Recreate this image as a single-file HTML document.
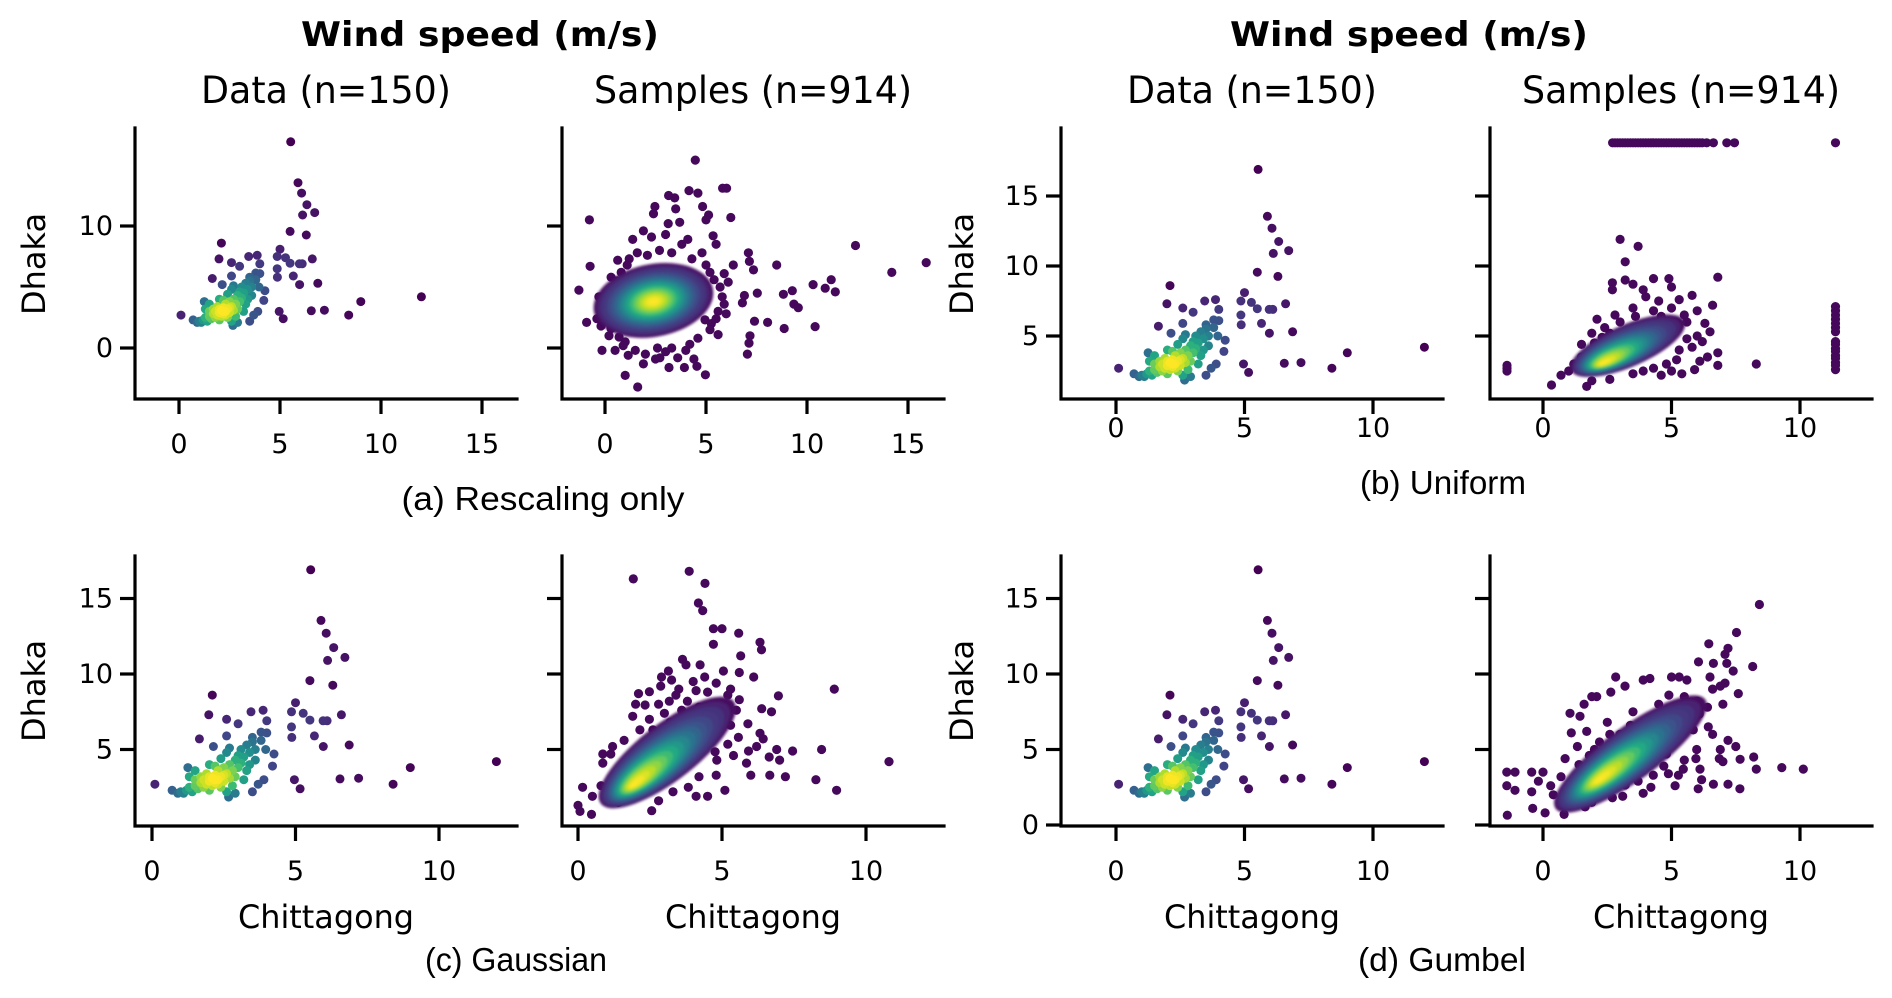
<!DOCTYPE html>
<html><head><meta charset="utf-8"><style>
html,body{margin:0;padding:0;background:#fff;}
svg{display:block;}
text{font-family:"DejaVu Sans","Liberation Sans",sans-serif;fill:#000;}
.cap{font-family:"Liberation Sans",sans-serif;}
</style></head><body>
<svg id="fig" width="1892" height="998" viewBox="0 0 1892 998">
<defs><filter id="soft" x="-20%" y="-20%" width="140%" height="140%"><feGaussianBlur stdDeviation="1.3"/></filter></defs>
<text x="480" y="46" font-size="34" font-weight="bold" text-anchor="middle" textLength="358" lengthAdjust="spacingAndGlyphs">Wind speed (m/s)</text>
<text x="1409" y="46" font-size="34" font-weight="bold" text-anchor="middle" textLength="358" lengthAdjust="spacingAndGlyphs">Wind speed (m/s)</text>
<text x="326" y="103" font-size="37" text-anchor="middle" textLength="250" lengthAdjust="spacingAndGlyphs">Data (n=150)</text>
<text x="753" y="103" font-size="37" text-anchor="middle" textLength="318" lengthAdjust="spacingAndGlyphs">Samples (n=914)</text>
<text x="1252" y="103" font-size="37" text-anchor="middle" textLength="250" lengthAdjust="spacingAndGlyphs">Data (n=150)</text>
<text x="1681" y="103" font-size="37" text-anchor="middle" textLength="318" lengthAdjust="spacingAndGlyphs">Samples (n=914)</text>
<text class="cap" x="543" y="510" font-size="33" text-anchor="middle" textLength="283" lengthAdjust="spacingAndGlyphs">(a) Rescaling only</text>
<text class="cap" x="1443" y="494" font-size="33" text-anchor="middle" textLength="166" lengthAdjust="spacingAndGlyphs">(b) Uniform</text>
<text class="cap" x="516" y="971" font-size="33" text-anchor="middle" textLength="182" lengthAdjust="spacingAndGlyphs">(c) Gaussian</text>
<text class="cap" x="1442" y="971" font-size="33" text-anchor="middle" textLength="168" lengthAdjust="spacingAndGlyphs">(d) Gumbel</text>
<text x="326" y="928" font-size="32" text-anchor="middle" textLength="176" lengthAdjust="spacingAndGlyphs">Chittagong</text>
<text x="753" y="928" font-size="32" text-anchor="middle" textLength="176" lengthAdjust="spacingAndGlyphs">Chittagong</text>
<text x="1252" y="928" font-size="32" text-anchor="middle" textLength="176" lengthAdjust="spacingAndGlyphs">Chittagong</text>
<text x="1681" y="928" font-size="32" text-anchor="middle" textLength="176" lengthAdjust="spacingAndGlyphs">Chittagong</text>
<text transform="translate(45,264) rotate(-90)" font-size="32" text-anchor="middle">Dhaka</text>
<text transform="translate(973,264) rotate(-90)" font-size="32" text-anchor="middle">Dhaka</text>
<text transform="translate(45,691) rotate(-90)" font-size="32" text-anchor="middle">Dhaka</text>
<text transform="translate(973,691) rotate(-90)" font-size="32" text-anchor="middle">Dhaka</text>
</svg>
<script>
// ---- observed data (n=150), shared by all Data panels ----
const observedPoints = [
[5.53,16.9],[5.89,13.55],[6.07,12.7],[6.33,11.75],[6.12,10.9],[6.72,11.1],[5.5,9.56],[6.3,9.26],
[2.1,8.6],[1.98,7.3],[6.6,7.3],[5.0,8.1],[4.86,7.5],[5.27,7.4],[5.5,6.95],[5.96,6.9],[6.1,6.9],
[3.87,7.6],[3.45,7.5],[4.0,6.9],[2.6,7.0],[3.0,6.7],[4.86,6.5],[4.87,5.8],[5.66,5.9],[5.97,5.2],
[6.87,5.3],[1.65,5.7],[2.6,5.9],[2.14,5.2],[3.5,5.8],[3.8,6.15],[3.96,5.0],[4.25,4.7],[4.2,3.9],
[3.6,4.3],[3.4,4.0],[4.96,3.0],[5.16,2.4],[6.55,3.05],[7.2,3.1],[8.4,2.7],[9.0,3.8],[12.0,4.2],
[0.1,2.7],[3.9,3.0],[3.7,2.7],[3.5,2.2],[2.67,1.85],[0.7,2.3],[1.25,3.8],
[0.9,2.1],[1.0,2.2],[1.1,2.1],[1.2,2.3],[1.3,2.5],[1.4,2.2],[1.5,2.6],[1.5,3.0],[1.6,2.4],[1.7,2.8],
[1.7,3.2],[1.8,2.5],[1.8,3.0],[1.9,2.7],[1.9,3.4],[2.0,2.9],[2.0,2.3],[2.1,3.1],[2.1,2.6],[2.2,3.3],
[2.2,2.8],[2.3,3.0],[2.3,3.6],[2.4,2.5],[2.4,3.2],[2.5,2.9],[2.5,3.8],[2.6,3.4],[2.6,2.2],[2.7,3.1],
[2.7,4.0],[2.8,3.6],[2.8,2.6],[2.9,4.3],[2.9,3.2],[3.0,4.6],[3.0,3.8],[3.1,5.0],[3.1,4.1],[3.2,4.5],
[3.3,5.3],[3.3,3.6],[3.4,4.8],[3.5,5.5],[2.0,4.0],[2.4,4.4],[1.5,3.6],[2.6,4.8],[3.6,5.0],[3.8,5.6],
[4.0,6.1],[3.2,3.0],[2.9,2.1],[1.3,3.2],[2.2,3.9],[2.7,5.1],[2.2,3.0],[2.3,2.7],[2.0,3.2],[2.5,3.3]
];
// ---- sampled points (outer scatter) per method ----
const samplesRescale = [
[4.47,15.4],[5.82,13.1],[6.02,13.1],[4.16,12.9],[4.6,12.7],[3.15,12.5],[3.45,12.3],[2.47,11.6],[3.5,11.4],
[4.83,11.6],[5.13,10.9],[6.23,10.7],[5.0,10.5],[-0.77,10.5],[3.13,10.2],[3.7,10.3],[2.4,11.0],[2.3,9.1],
[5.35,9.2],[5.5,8.5],[1.37,8.9],[-0.74,6.7],[0.63,7.2],[7.1,7.8],[7.15,7.1],[7.35,6.4],[8.5,6.8],[12.4,8.4],
[14.2,6.2],[15.9,7.0],[11.2,5.6],[10.3,5.2],[10.9,4.9],[11.4,4.6],[9.27,4.7],[8.83,4.4],[7.54,4.5],[6.9,4.3],
[6.8,3.7],[9.35,3.6],[9.57,3.3],[8.05,2.1],[8.87,1.6],[10.4,1.75],[7.4,2.2],[7.18,1.0],[7.13,0.4],[7.05,-0.5],
[6.35,6.8],[-1.29,4.75],[-0.91,2.1],[-0.15,-0.2],[1.15,-0.6],[1.9,-1.3],[2.72,-0.8],[3.17,-1.6],[3.93,-1.6],
[4.55,-1.5],[4.97,-2.2],[1.0,-2.25],[1.62,-3.2],[5.6,1.1],[4.95,2.3],[5.26,2.0],
[-0.3,4.2],[-0.4,2.4],[0.2,1.0],[0.5,-0.2],[0.8,6.2],[1.2,7.3],[1.0,0.5],[2.0,-0.5],[3.0,-0.3],[4.2,0.3],
[5.2,1.5],[5.6,3.0],[5.4,5.6],[4.8,7.8],[3.8,8.5],[2.7,8.0],[1.6,7.8],[0.3,5.8],[5.8,4.2],[6.1,5.4],
[4.4,-0.9],[3.6,-0.8],[1.5,-0.2],[0.0,3.2],[5.0,6.8],[-0.2,1.8],
[0.4,4.8],[0.2,3.6],[-0.1,2.7],[0.3,1.6],[0.9,0.2],[2.5,-0.9],[3.3,0.0],[4.6,0.8],[5.5,2.4],[5.9,3.6],
[5.7,5.0],[5.2,6.2],[4.3,7.3],[3.3,7.8],[2.1,7.6],[1.1,6.8],[0.6,5.5],[4.1,8.9],[3.0,9.3],[1.9,9.6],
[5.9,6.1],[6.0,2.8],[0.7,0.9],[2.6,0.0],[4.0,-0.2]
];
const samplesUniform = [
[2.71,18.8],[2.8,18.8],[2.9,18.8],[3.0,18.8],[3.1,18.8],[3.2,18.8],[3.3,18.8],[3.4,18.8],[3.5,18.8],[3.6,18.8],
[3.7,18.8],[3.8,18.8],[3.9,18.8],[4.0,18.8],[4.1,18.8],[4.2,18.8],[4.3,18.8],[4.4,18.8],[4.5,18.8],[4.6,18.8],
[4.7,18.8],[4.8,18.8],[4.9,18.8],[5.0,18.8],[5.1,18.8],[5.2,18.8],[5.3,18.8],[5.4,18.8],[5.5,18.8],[5.6,18.8],
[5.7,18.8],[5.8,18.8],[5.9,18.8],[6.0,18.8],[6.1,18.8],[6.2,18.8],[6.37,18.8],[6.63,18.8],[7.15,18.8],[7.45,18.8],[11.38,18.8],
[11.38,2.6],[11.38,2.9],[11.38,3.1],[11.38,3.4],[11.38,3.6],[11.38,3.9],[11.38,4.1],[11.38,4.4],[11.38,4.6],
[11.38,5.3],[11.38,5.6],[11.38,5.9],[11.38,6.2],[11.38,6.5],[11.38,6.8],[11.38,7.1],
[-1.4,2.5],[-1.4,2.7],[-1.4,2.9],
[0.7,2.2],[0.33,1.5],[1.7,1.4],[1.0,2.5],[1.5,3.5],[2.1,6.2],[1.5,4.4],[2.7,8.8],[2.7,8.3],[3.2,9.0],
[3.5,8.7],[3.0,11.9],[3.7,11.4],[3.2,10.3],[4.3,9.1],[4.9,9.1],[5.0,8.5],[6.8,9.2],[6.6,7.2],[5.8,7.9],
[6.3,5.9],[6.5,5.3],[8.3,3.0],[6.8,3.8],[6.4,3.5],[6.8,2.9],[5.9,2.6],[4.6,2.2],[5.4,2.3],[5.0,2.5],
[4.5,7.5],[4.0,7.8],[3.5,7.0],[5.5,6.5],[5.3,4.0],[4.8,3.0],[3.9,2.5],[2.8,6.5],[2.4,5.6],[5.6,4.8],
[6.0,6.8],[3.9,8.3],[1.9,5.2],
[1.2,3.0],[2.0,4.5],[2.6,5.2],[3.0,6.0],[3.6,6.4],[4.3,6.8],[5.0,7.0],[5.6,6.0],[6.0,5.0],[5.8,4.2],
[5.2,3.3],[4.3,2.7],[3.5,2.3],[2.6,1.9],[1.9,1.8],[5.3,7.6],[4.6,6.4],[6.2,4.6],[2.3,4.9],[6.1,3.2]
];
const samplesGaussian = [
[1.92,16.3],[3.86,16.8],[4.41,16.0],[4.18,14.7],[4.33,14.2],[4.7,13.0],[5.0,13.0],[5.58,12.7],[6.32,12.1],
[6.37,11.6],[4.7,11.97],[5.65,11.2],[3.63,10.97],[3.75,10.6],[4.24,10.6],[5.05,10.2],[3.14,10.2],[2.9,9.8],
[3.25,9.6],[5.6,10.1],[6.1,9.8],[2.1,8.7],[2.48,8.83],[2.87,9.2],[2.0,8.0],[2.33,7.95],[2.8,8.0],[3.17,8.2],
[1.9,7.2],[2.48,7.0],[2.15,6.3],[6.96,8.55],[8.9,9.0],[6.38,7.7],[6.72,7.5],[6.32,6.07],[6.43,5.7],[6.9,5.0],
[7.45,4.9],[8.46,5.0],[5.92,4.9],[6.64,4.5],[7.0,4.3],[10.8,4.2],[8.26,3.0],[8.98,2.3],[6.66,3.3],[7.2,3.2],
[6.0,3.3],[5.85,4.1],[5.1,2.3],[4.8,3.3],[4.5,1.9],[4.1,1.9],[3.83,2.5],[0.86,4.7],[1.14,4.7],[0.86,4.1],
[0.16,2.5],[0.0,1.3],[0.07,0.9],[0.47,0.7],[2.56,0.95],[4.76,4.85],[4.82,4.3],[5.2,5.35],[5.57,5.8],
[3.5,9.0],[4.0,9.5],[4.5,8.8],[5.2,8.6],[5.5,7.6],[3.0,7.4],[3.8,8.2],[4.6,7.0],[5.3,6.6],[1.6,5.6],[1.2,5.2],
[3.4,8.6],[4.1,8.9],[4.8,9.4],[5.3,9.0],[4.2,7.8],[3.6,7.6],[5.6,8.3],[5.0,7.8],[2.6,6.3],[3.2,6.8],
[5.9,6.7],[5.4,4.6],[4.2,3.2],[3.3,2.2],[2.8,1.6],[1.4,1.5],[0.8,2.6],[0.5,1.9],[6.2,5.2],[4.4,9.8]
];
const samplesGumbel = [
[8.42,14.6],[7.53,12.75],[6.45,12.0],[7.2,11.7],[7.08,11.3],[7.15,10.7],[6.63,10.7],[6.05,10.8],[8.16,10.5],
[7.6,8.7],[7.08,9.4],[6.5,9.8],[6.9,9.2],[5.3,9.8],[5.6,9.6],[5.0,9.8],[4.16,9.7],[3.9,9.6],[2.83,9.8],
[3.19,9.2],[2.64,8.8],[2.09,8.5],[1.9,8.5],[1.6,8.0],[1.05,7.4],[1.44,7.2],[1.1,6.1],[1.7,6.2],[1.34,5.2],
[0.86,4.4],[-0.44,3.5],[-1.09,3.5],[-1.41,3.5],[0.0,3.5],[-1.41,2.6],[-1.09,2.3],[-0.44,2.2],[-0.18,2.9],
[-1.39,0.65],[-0.4,1.1],[0.08,0.8],[0.82,0.7],[1.64,1.2],[7.2,5.6],[7.5,5.2],[8.2,4.5],[7.67,4.35],[6.86,4.4],
[7.0,4.2],[9.29,3.8],[10.13,3.7],[8.3,3.7],[5.98,5.0],[5.95,4.4],[6.11,3.7],[5.46,3.7],[5.27,3.3],[6.17,3.0],
[6.63,2.7],[7.2,2.7],[7.66,2.4],[6.04,2.4],[5.14,2.6],[4.88,3.4],[4.29,3.3],[4.2,2.5],[3.9,2.1],[3.1,1.9],
[3.2,2.65],[6.08,7.35],[5.85,6.3],[6.43,6.5],[4.55,5.0],[4.8,4.7],[4.1,4.5],
[5.5,8.5],[4.5,8.0],[3.5,7.5],[2.5,6.8],[6.0,8.2],[5.0,7.2],[3.0,6.0],[2.2,5.5],[1.8,4.6],[0.4,2.0],
[6.6,9.0],[7.0,8.0],[6.4,7.8],[5.7,7.6],[4.9,8.6],[4.1,7.0],[3.4,6.6],[2.6,6.0],[2.0,5.0],[1.4,4.0],
[0.7,3.2],[0.3,2.6],[6.6,6.0],[6.9,5.0],[5.5,4.3],[4.7,3.9],[3.7,2.9],[2.7,1.8],[1.9,1.5],[7.4,10.2]
];
// ---- density core of each sample cloud: [meanX, meanY], [modeX, modeY], [angle(deg), halfLength, halfWidth] ----
const coreRescaleMean = [2.4,3.9], coreRescaleMode = [2.4,3.8], coreRescaleShape = [50,3.3,2.7];
const coreUniformMean = [3.3,4.3], coreUniformMode = [2.3,3.0], coreUniformShape = [45,2.9,1.25];
const coreGaussianMean = [3.1,4.8], coreGaussianMode = [1.9,2.6], coreGaussianShape = [60,4.2,1.3];
const coreGumbelMean = [3.4,4.7], coreGumbelMode = [2.15,2.95], coreGumbelShape = [54,4.7,1.35];
// ---- tick values ----
const xTicksA = [0,5,10,15], yTicksA = [0,10];
const xTicksB = [0,5,10], yTicksB = [5,10,15];
const xTicksC = [0,5,10], yTicksC = [5,10,15];
const xTicksD = [0,5,10], yTicksD = [0,5,10,15];

const NS = 'http://www.w3.org/2000/svg';
const svg = document.getElementById('fig');
const VIR = ['#440154','#482475','#414487','#355f8d','#2a788e','#21918c','#22a884','#44bf70','#7ad151','#bddf26','#fde725'];
function hex(h){return [parseInt(h.slice(1,3),16),parseInt(h.slice(3,5),16),parseInt(h.slice(5,7),16)];}
function viridis(t){t=Math.max(0,Math.min(1,t));const p=t*10,i=Math.min(9,Math.floor(p)),f=p-i;const a=hex(VIR[i]),b=hex(VIR[i+1]);
 return 'rgb('+a.map((v,k)=>Math.round(v+(b[k]-v)*f)).join(',')+')';}
function mk(tag,attrs,parent){const e=document.createElementNS(NS,tag);for(const k in attrs)e.setAttribute(k,attrs[k]);(parent||svg).appendChild(e);return e;}

const obsDensity = observedPoints.map(p=>observedPoints.reduce((s,q)=>{const dx=(p[0]-q[0])/0.65,dy=(p[1]-q[1])/0.75;return s+Math.exp(-(dx*dx+dy*dy)/2);},0));
const dMin=Math.min(...obsDensity), dMax=Math.max(...obsDensity);
const obsOrder = observedPoints.map((p,i)=>i).sort((a,b)=>obsDensity[a]-obsDensity[b]);

const panels = [
 {name:'a-data',pts:observedPoints,obs:true,left:135,right:517,top:128,bottom:399,x0:179,sx:20.2,y0:348,sy:12.2,xt:xTicksA,yt:yTicksA,ylab:true,xlabY:453},
 {name:'a-samples',pts:samplesRescale,core:[coreRescaleMean,coreRescaleMode,coreRescaleShape],left:562,right:944,top:128,bottom:399,x0:605,sx:20.2,y0:348,sy:12.2,xt:xTicksA,yt:yTicksA,ylab:false,xlabY:453},
 {name:'b-data',pts:observedPoints,obs:true,left:1061,right:1443,top:128,bottom:399,x0:1116,sx:25.7,y0:406,sy:14,xt:xTicksB,yt:yTicksB,ylab:true,xlabY:437},
 {name:'b-samples',pts:samplesUniform,core:[coreUniformMean,coreUniformMode,coreUniformShape],left:1490,right:1872,top:128,bottom:399,x0:1543,sx:25.7,y0:406,sy:14,xt:xTicksB,yt:yTicksB,ylab:false,xlabY:437},
 {name:'c-data',pts:observedPoints,obs:true,left:135,right:517,top:556,bottom:826,x0:152,sx:28.7,y0:825,sy:15.1,xt:xTicksC,yt:yTicksC,ylab:true,xlabY:880},
 {name:'c-samples',pts:samplesGaussian,core:[coreGaussianMean,coreGaussianMode,coreGaussianShape],left:562,right:944,top:556,bottom:826,x0:578,sx:28.8,y0:825,sy:15.1,xt:xTicksC,yt:yTicksC,ylab:false,xlabY:880},
 {name:'d-data',pts:observedPoints,obs:true,left:1061,right:1443,top:556,bottom:826,x0:1116,sx:25.7,y0:825,sy:15.1,xt:xTicksD,yt:yTicksD,ylab:true,xlabY:880},
 {name:'d-samples',pts:samplesGumbel,core:[coreGumbelMean,coreGumbelMode,coreGumbelShape],left:1490,right:1872,top:556,bottom:826,x0:1543,sx:25.7,y0:825,sy:15.1,xt:xTicksD,yt:yTicksD,ylab:false,xlabY:880}
];

panels.forEach(P=>{
 const X=v=>P.x0+v*P.sx, Y=v=>P.y0-v*P.sy;
 const g=mk('g',{});
 
 
 const pg=mk('g',{},g);
 
 
 if(P.obs){
  obsOrder.forEach(i=>{const p=P.pts[i];
   const c=mk('circle',{cx:X(p[0]).toFixed(1),cy:Y(p[1]).toFixed(1),r:4.5,fill:viridis((obsDensity[i]-dMin)/(dMax-dMin))},pg);
   
   
  });
 } else {
  P.pts.forEach(p=>{
   const c=mk('circle',{cx:X(p[0]).toFixed(1),cy:Y(p[1]).toFixed(1),r:4.6,fill:viridis(0.02)},pg);
   
   
  });
  const [mean,mode,shape]=P.core;
  const wrap=mk('g',{filter:'url(#soft)'},g);
  
  
  const tg=mk('g',{transform:`translate(${P.x0},${P.y0}) scale(${P.sx},${-P.sy})`},wrap);
  const N=18;
  for(let i=0;i<N;i++){
   const r=1-i/N;
   const cx=mode[0]+(mean[0]-mode[0])*r, cy=mode[1]+(mean[1]-mode[1])*r;
   const t=i<3?0.04+i*0.05:Math.exp(-Math.pow(2.3*r,2)/2)*1.02;
   const e=mk('ellipse',{cx:cx,cy:cy,rx:shape[1]*r,ry:shape[2]*r,transform:`rotate(${shape[0]} ${cx} ${cy})`,fill:viridis(t)},tg);
   
   
  }
 }
 const ax=mk('g',{stroke:'#000','stroke-width':3.2,fill:'none'},g);
 
 
 mk('path',{d:`M${P.left},${P.top}V${P.bottom}H${P.right}`,'stroke-linecap':'square'},ax);
 P.xt.forEach(v=>{mk('line',{x1:X(v),x2:X(v),y1:P.bottom,y2:P.bottom+15},ax);
  const t=mk('text',{x:X(v),y:P.xlabY,'font-size':27,'text-anchor':'middle'},g);t.textContent=v;
  
  
 });
 P.yt.forEach(v=>{mk('line',{x1:P.left-15,x2:P.left,y1:Y(v),y2:Y(v)},ax);
  if(P.ylab){const t=mk('text',{x:P.left-22,y:Y(v)+9,'font-size':27,'text-anchor':'end'},g);t.textContent=v;
   
   }
 });
});
</script>
</body></html>
